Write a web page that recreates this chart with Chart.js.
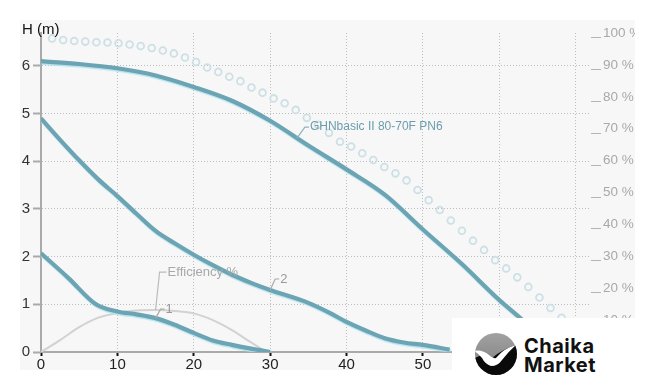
<!DOCTYPE html>
<html><head><meta charset="utf-8">
<script src="https://cdn.jsdelivr.net/npm/chart.js@4.4.1/dist/chart.umd.min.js"></script>
<style>
html,body{margin:0;padding:0;background:#fff;width:656px;height:391px;overflow:hidden;font-family:"Liberation Sans",Arial,sans-serif}
#panel{position:absolute;left:20px;top:20px;width:615px;height:350px;background:#f7f7f7;overflow:hidden}
#c{display:block;width:615px;height:350px}
#logo{position:absolute;left:452px;top:318px;width:204px;height:73px;background:#fff}
#logo svg{position:absolute;left:0;top:0}
#logo .t{position:absolute;left:72px;font-family:Inter,"Open Sans",sans-serif;font-weight:700;font-size:20px;color:#111;letter-spacing:0.5px;line-height:20px}
</style></head><body>
<div id="panel"><canvas id="c" width="615" height="350"></canvas></div>
<div id="logo">
<svg width="90" height="73" viewBox="0 0 90 73">
<defs><clipPath id="cc"><circle cx="44" cy="36" r="21"/></clipPath>
<linearGradient id="gg" x1="0" y1="0" x2="0" y2="1"><stop offset="0" stop-color="#a4a4a4"/><stop offset="1" stop-color="#787878"/></linearGradient></defs>
<g clip-path="url(#cc)">
<rect x="20" y="12" width="50" height="50" fill="url(#gg)"/>
<path d="M20,42 Q30,34 40,40 Q52,30 68,26 L70,62 L20,62 Z" fill="#0a0a0a"/>
<path d="M22,33 Q30,31 37,37 Q41,41 44,40 Q52,30 64,27 Q56,34 50,42 Q46,48 39,48 Q33,46 30,40 Q27,36 22,33 Z" fill="#fff"/>
</g>
</svg>
<div class="t" style="top:18px">Chaika</div>
<div class="t" style="top:37px">Market</div>
</div>
<script>
// ---- data ----
const mainX = [0, 5, 10, 15, 20, 25, 30, 35, 40, 45, 50, 55, 60, 62.6, 65, 67.5];
const mainH = [6.10, 6.04, 5.95, 5.80, 5.56, 5.27, 4.85, 4.33, 3.83, 3.30, 2.57, 1.86, 1.09, 0.73, 0.38, 0.0];

const c2X = [0, 2.5, 5, 7.5, 10, 12.5, 15, 17.5, 20, 22.5, 25, 27.5, 30, 35, 37.8, 40, 42.5, 45, 47.5, 50, 53.5];
const c2H = [4.90, 4.45, 4.02, 3.62, 3.27, 2.90, 2.54, 2.28, 2.04, 1.82, 1.62, 1.45, 1.30, 1.03, 0.82, 0.63, 0.45, 0.29, 0.20, 0.15, 0.05];

const c1X = [0, 3.6, 7.2, 10, 12.5, 15, 17.5, 20, 22.5, 25, 27.5, 30];
const c1H = [2.07, 1.55, 1.00, 0.85, 0.79, 0.71, 0.57, 0.40, 0.24, 0.15, 0.07, 0.0];

const effX = [0, 2.5, 5, 7.5, 10, 12.5, 15, 17.5, 20, 22.5, 25, 27.5, 29.5];
const effH = [0, 0.25, 0.52, 0.72, 0.82, 0.87, 0.88, 0.86, 0.81, 0.67, 0.46, 0.20, 0];

const dotX = [1.45, 2.9, 4.35, 5.8, 7.25, 8.7, 10.15, 11.6, 13.05, 14.5, 15.95, 17.4, 18.85, 20.3, 21.75, 23.2, 24.65, 26.1, 27.55, 29.0,
  30.45, 31.9, 33.35, 34.8, 36.25, 37.7, 39.15, 40.6, 42.05, 43.5, 44.95, 46.4, 47.85, 49.3, 50.75, 52.2, 53.65, 55.1, 56.55, 58.0,
  59.45, 60.9, 62.35, 63.8, 65.25, 66.7, 68.15, 69.6, 71.05];
const dotPct = [98.3, 97.8, 97.5, 97.3, 97.1, 97.0, 96.8, 96.4, 95.9, 95.3, 94.5, 93.6, 92.3, 90.9, 89.2, 87.8, 86.3, 84.9, 82.9, 81.3,
  79.5, 78.0, 75.9, 73.4, 71.2, 68.7, 65.9, 64.4, 62.3, 60.2, 58.0, 56.0, 53.8, 50.8, 47.6, 44.5, 41.2, 38.0, 34.9, 32.0,
  28.8, 26.2, 23.4, 20.4, 17.1, 13.8, 10.7, 7.6, 4.5];

const xTickStep = 10, xMax = 72;
const hTickStep = 1, hMax = 6.69;
const pctTickStep = 10, pctMax = 100;
const axisTitle = 'H (m)';

const curveLabels = [
  {ds: 0, at: 33.5, text: 'GHNbasic II 80-70F PN6', color: '#6b9dad', line: '#8fb3be', size: 12, dx: 8, dy: -11, h: 4},
  {ds: 1, at: 30, text: '2', color: '#999', line: '#aaa', size: 13, dx: 5, dy: -11, h: 4},
  {ds: 2, at: 15, text: '1', color: '#999', line: '#aaa', size: 13, dx: 5, dy: -9, h: 4},
  {ds: 3, at: 15, text: 'Efficiency %', color: '#a8a8a8', line: '#bbb', size: 13, dx: 4, dy: -38, h: 7}
];

const pts = (xs, ys) => xs.map((x, i) => ({x: x, y: ys[i]}));
function interp(xs, ys, x) {
  for (let i = 0; i < xs.length - 1; i++) {
    if (x >= xs[i] && x <= xs[i + 1]) {
      const t = (x - xs[i]) / (xs[i + 1] - xs[i]);
      return ys[i] + t * (ys[i + 1] - ys[i]);
    }
  }
  return ys[ys.length - 1];
}
const series = [[mainX, mainH], [c2X, c2H], [c1X, c1H], [effX, effH]];

const haloPlugin = {
  id: 'halo',
  beforeDatasetDraw(chart, args) {
    if (args.index <= 2) {
      const ctx = chart.ctx;
      ctx.save();
      ctx.shadowColor = 'rgba(170,225,238,0.9)';
      ctx.shadowOffsetX = 0.8;
      ctx.shadowOffsetY = 1.5;
      ctx.shadowBlur = 1;
    }
  },
  afterDatasetDraw(chart, args) {
    if (args.index <= 2) chart.ctx.restore();
  }
};

const labelPlugin = {
  id: 'curveLabels',
  afterDraw(chart) {
    const ctx = chart.ctx, xs = chart.scales.x, ys = chart.scales.y, y2 = chart.scales.y2;
    ctx.save();
    curveLabels.forEach(l => {
      const [sx, sy] = series[l.ds];
      const px = xs.getPixelForValue(l.at), py = ys.getPixelForValue(interp(sx, sy, l.at));
      ctx.strokeStyle = l.line; ctx.lineWidth = 1.2;
      ctx.beginPath();
      ctx.moveTo(px, py);
      ctx.lineTo(px + l.dx, py + l.dy);
      ctx.lineTo(px + l.dx + l.h, py + l.dy);
      ctx.stroke();
      ctx.fillStyle = l.color;
      ctx.font = l.size + 'px "Liberation Sans", Arial, sans-serif';
      ctx.textBaseline = 'middle'; ctx.textAlign = 'left';
      ctx.fillText(l.text, px + l.dx + l.h + 1, py + l.dy);
    });
    // underscore-style ticks on the right axis (sit at label baseline)
    ctx.strokeStyle = '#b5b5b5'; ctx.lineWidth = 1;
    y2.ticks.forEach(t => {
      const py = Math.round(y2.getPixelForValue(t.value)) + 4.5;
      ctx.beginPath();
      ctx.moveTo(y2.left + 0, py);
      ctx.lineTo(y2.left + 10, py);
      ctx.stroke();
    });
    // axis title
    ctx.fillStyle = '#111';
    ctx.font = '15px "Liberation Sans", Arial, sans-serif';
    ctx.textBaseline = 'middle';
    ctx.fillText(axisTitle, 2, 10);
    ctx.restore();
  }
};

const lineDs = (label, xs, ys, color, w) => ({
  label, data: pts(xs, ys), borderColor: color, borderWidth: w, pointRadius: 0,
  tension: 0.35, cubicInterpolationMode: 'monotone', fill: false, yAxisID: 'y'
});

new Chart(document.getElementById('c'), {
  type: 'line',
  data: {
    datasets: [
      lineDs('GHNbasic II 80-70F PN6', mainX, mainH, '#6ca4b3', 4.2),
      lineDs('2', c2X, c2H, '#6ca4b3', 4.2),
      lineDs('1', c1X, c1H, '#6ca4b3', 4.2),
      lineDs('Efficiency %', effX, effH, '#d2d2d2', 2),
      {label: 'dots', data: pts(dotX, dotPct), yAxisID: 'y2', showLine: false,
       pointRadius: 3.4, pointBorderWidth: 1.8, pointBorderColor: '#cde0e5',
       pointBackgroundColor: 'rgba(0,0,0,0)'}
    ]
  },
  options: {
    responsive: false, animation: false, devicePixelRatio: 1,
    layout: {padding: {top: 13, left: 0, right: 0, bottom: 0}},
    plugins: {legend: {display: false}, tooltip: {enabled: false}},
    scales: {
      x: {type: 'linear', min: 0, max: xMax,
        afterFit: s => { s.height = 18; },
        ticks: {stepSize: xTickStep, includeBounds: false, color: '#222', padding: 0, maxRotation: 0,
          font: {size: 15, family: '"Liberation Sans", Arial, sans-serif'}},
        grid: {color: '#bdbdbd', lineWidth: 1, drawTicks: true, tickLength: 4, tickColor: '#111', tickWidth: 2},
        border: {color: '#aaa', width: 2, dash: [1, 2]}
      },
      y: {type: 'linear', position: 'left', min: 0, max: hMax,
        afterFit: s => { s.width = 21; },
        ticks: {stepSize: hTickStep, includeBounds: false, color: '#333', padding: 3,
          font: {size: 15, family: '"Liberation Sans", Arial, sans-serif'}},
        grid: {color: '#bdbdbd', lineWidth: 1, drawTicks: true, tickLength: 8, tickColor: '#aaa', tickWidth: 2},
        border: {color: '#aaa', width: 2, dash: [1, 2]}
      },
      y2: {type: 'linear', position: 'right', min: 0, max: pctMax,
        afterFit: s => { s.width = 44; },
        ticks: {stepSize: pctTickStep, includeBounds: false, color: '#a9a9a9', padding: 1,
          callback: v => v + ' %',
          font: {size: 13.5, family: '"Liberation Sans", Arial, sans-serif'}},
        grid: {drawOnChartArea: false, drawTicks: true, tickLength: 11, tickColor: 'rgba(0,0,0,0)', tickWidth: 1},
        border: {display: false}
      }
    }
  },
  plugins: [haloPlugin, labelPlugin]
});
</script>
</body></html>
